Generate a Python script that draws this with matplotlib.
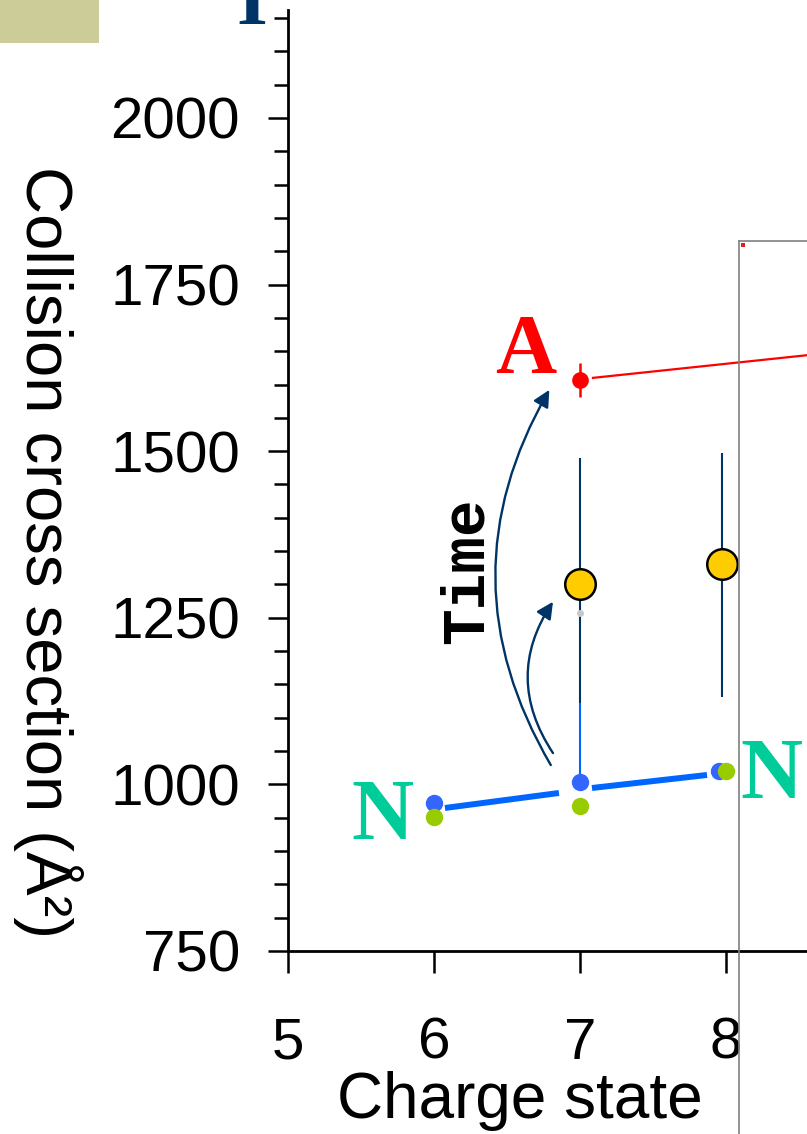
import matplotlib
matplotlib.use('Agg')
import matplotlib.pyplot as plt
from matplotlib.patches import Rectangle
from matplotlib.lines import Line2D
from matplotlib.ticker import MultipleLocator

plt.rcParams['font.family'] = ['Liberation Sans', 'DejaVu Sans']

# data
charge_ticks = [5, 6, 7, 8]

blue_x = [6, 7, 7.95]
blue_y = [972, 1004, 1020]
blue_err_lo = [0, 0, 0]
blue_err_hi = [0, 118, 0]

green_x = [6, 7, 8]
green_y = [951, 968, 1020]

blue_fit_x1 = [6.075, 6.856]
blue_fit_y1 = [964.6, 987.1]
blue_fit_x2 = [7.082, 7.87]
blue_fit_y2 = [994.6, 1014.1]

yellow_x = [7, 7.97]
yellow_y = [1301, 1331]
yellow_err_lo = [179, 200]
yellow_err_hi = [189, 166]

grey_x = [7]
grey_y = [1257]

red_x = [7]
red_y = [1607]
red_err = [26]
red_fit_x = [7.089, 8.555]
red_fit_y = [1610, 1644]

# arrows: (start x, start y, end x, end y, rad)
arrow_long = (6.80, 1029, 6.79, 1592, -0.29)
arrow_short = (6.815, 1047, 6.815, 1274, -0.33)

fig = plt.figure(figsize=(8.07, 11.34), dpi=100)
ax = fig.add_axes([0.35688, 0.16138, 0.64312, 0.82981])

navy = '#003366'

ax.plot(blue_fit_x1, blue_fit_y1, color='#0066FF', lw=4.3, solid_capstyle='butt', zorder=2)
ax.plot(blue_fit_x2, blue_fit_y2, color='#0066FF', lw=4.3, solid_capstyle='butt', zorder=2)

ax.errorbar(yellow_x, yellow_y, yerr=[yellow_err_lo, yellow_err_hi], fmt='none',
            ecolor=navy, elinewidth=1.5, capsize=0, zorder=3)
ax.errorbar(blue_x, blue_y, yerr=[blue_err_lo, blue_err_hi], fmt='none',
            ecolor='#0066FF', elinewidth=1.5, capsize=0, zorder=3)
ax.plot(grey_x, grey_y, 'o', color='#C8C8C8', ms=4, zorder=3)
ax.plot(yellow_x, yellow_y, 'o', mfc='#FFCC00', mec='black', mew=1.8, ms=22, zorder=4)
ax.plot(blue_x, blue_y, 'o', color='#3366FF', ms=11.5, zorder=4)
ax.plot(green_x, green_y, 'o', color='#99CC00', ms=11.5, zorder=5)

ax.errorbar(red_x, red_y, yerr=red_err, fmt='o', color='#FF0000', ms=11,
            elinewidth=1.8, capsize=0, zorder=4)
ax.plot(red_fit_x, red_fit_y, color='#FF0000', lw=1.6, zorder=3)

for sx, sy, ex, ey, rad in [arrow_long, arrow_short]:
    ax.annotate('', xy=(ex, ey), xytext=(sx, sy),
                arrowprops=dict(arrowstyle='-|>', color=navy, lw=1.7,
                                connectionstyle='arc3,rad=%s' % rad,
                                mutation_scale=25, shrinkA=0, shrinkB=0))

serif = ['Liberation Serif', 'DejaVu Serif']
ax.text(6.63, 1617, 'A', color='#FF0000', fontsize=61, fontweight='bold',
        family=serif, ha='center', va='baseline')
ax.text(5.65, 918, 'N', color='#00CC99', fontsize=62, fontweight='bold',
        family=serif, ha='center', va='baseline')
ax.text(8.31, 980, 'N', color='#00CC99', fontsize=62, fontweight='bold',
        family=serif, ha='center', va='baseline')
ax.text(6.226, 1321, 'Time', rotation=90, fontsize=44, fontweight='bold',
        family=['Liberation Mono', 'DejaVu Sans Mono'], ha='center', va='center')

ax.set_xlim(5, 8.555)
ax.set_ylim(750, 2162)
ax.set_xticks(charge_ticks)
ax.set_yticks([750, 1000, 1250, 1500, 1750, 2000])
ax.yaxis.set_minor_locator(MultipleLocator(50))

for s in ['top', 'right']:
    ax.spines[s].set_visible(False)
for s in ['left', 'bottom']:
    ax.spines[s].set_linewidth(2)

ax.tick_params(axis='y', which='major', length=14.5, width=1.8, labelsize=42, pad=20, direction='out')
ax.tick_params(axis='y', which='minor', length=10, width=1.8, direction='out')
ax.tick_params(axis='x', which='major', length=15.5, width=1.8, labelsize=42, pad=32, direction='out')

ax.set_xlabel('Charge state', fontsize=46)
ax.xaxis.label.set_verticalalignment('baseline')
ax.xaxis.set_label_coords(0.447, -0.1775)
ax.set_ylabel('Collision cross section (Å²)', fontsize=47, rotation=270)
ax.yaxis.label.set_verticalalignment('center')
ax.yaxis.set_label_coords(-0.462, 0.424)

# slide decorations
fig.add_artist(Rectangle((0, 1 - 43 / 1134), 99 / 807, 43 / 1134,
                         transform=fig.transFigure, facecolor='#CCCC99', edgecolor='none'))
fig.text(252 / 807, 1 - 24 / 1134, 'I', color=navy, fontsize=57, fontweight='bold',
         family=serif, ha='center', va='baseline')
frame_x = 739 / 807
frame_top = 1 - 241 / 1134
fig.add_artist(Line2D([frame_x, frame_x], [0, frame_top], transform=fig.transFigure,
                      color='#808080', lw=1.2, zorder=10))
fig.add_artist(Line2D([frame_x, 1], [frame_top, frame_top], transform=fig.transFigure,
                      color='#808080', lw=1.2, zorder=10))
fig.add_artist(Rectangle((741 / 807, 1 - 247 / 1134), 4 / 807, 4 / 1134,
                         transform=fig.transFigure, facecolor='#DD2222', edgecolor='none', zorder=10))

fig.savefig('out.png', dpi=100)
